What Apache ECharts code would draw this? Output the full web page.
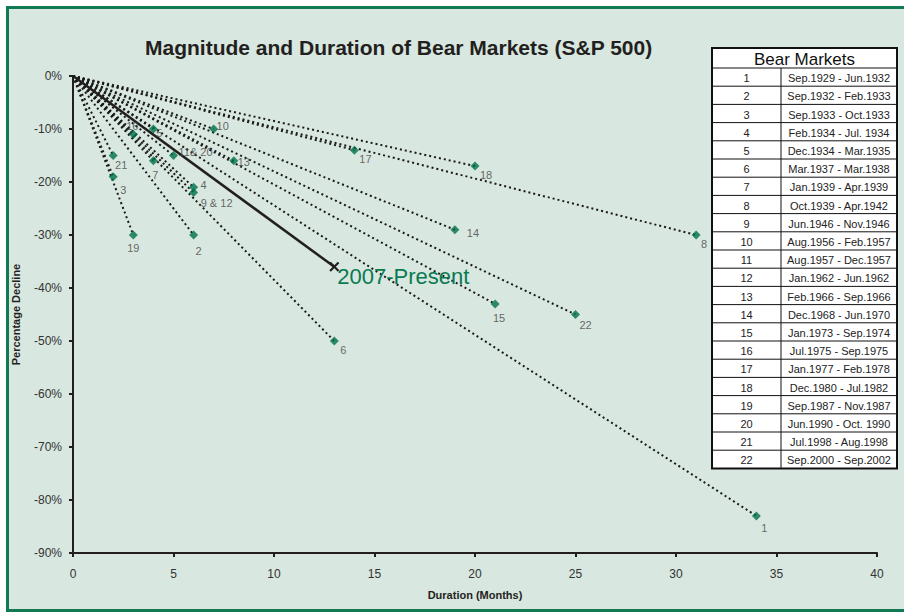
<!DOCTYPE html>
<html>
<head>
<meta charset="utf-8">
<script src="https://cdn.jsdelivr.net/npm/echarts@6/dist/echarts.min.js"></script>
<style>
  html, body { margin: 0; padding: 0; background: #fff; }
  #chart { width: 904px; height: 612px; }
</style>
</head>
<body>
<div id="chart"></div>
<script>
// bear markets: label, duration (months), decline (%)
var marketLabels = ['1', '2', '3', '4', '5', '6', '7', '8', '9 & 12', '10', '11& 20', '13', '14', '15', '16', '17', '18', '19', '21', '22'];
var marketMonths = [34, 6, 2, 6, 4, 13, 4, 31, 6, 7, 5, 8, 19, 21, 3, 14, 20, 3, 2, 25];
var marketDecline = [-83, -30, -19, -21, -10, -50, -16, -30, -22, -10, -15, -16, -29, -43, -11, -14, -17, -30, -15, -45];

// current bear market
var currentName = '2007-Present';
var currentMonths = 13;
var currentDecline = -36;

// table on the right
var tableTitle = 'Bear Markets';
var tableIds = ['1', '2', '3', '4', '5', '6', '7', '8', '9', '10', '11', '12', '13', '14', '15', '16', '17', '18', '19', '20', '21', '22'];
var tablePeriods = [
  'Sep.1929 - Jun.1932', 'Sep.1932 - Feb.1933', 'Sep.1933 - Oct.1933', 'Feb.1934 - Jul. 1934',
  'Dec.1934 - Mar.1935', 'Mar.1937 - Mar.1938', 'Jan.1939 - Apr.1939', 'Oct.1939 - Apr.1942',
  'Jun.1946 - Nov.1946', 'Aug.1956 - Feb.1957', 'Aug.1957 - Dec.1957', 'Jan.1962 - Jun.1962',
  'Feb.1966 - Sep.1966', 'Dec.1968 - Jun.1970', 'Jan.1973 - Sep.1974', 'Jul.1975 - Sep.1975',
  'Jan.1977 - Feb.1978', 'Dec.1980 - Jul.1982', 'Sep.1987 - Nov.1987', 'Jun.1990 - Oct. 1990',
  'Jul.1998 - Aug.1998', 'Sep.2000 - Sep.2002'
];

// where each point label sits, relative to the marker (px)
var labelOffset = {
  '1': [8, 12], '2': [5, 16], '3': [10, 13], '4': [10, -2], '5': [6, 4], '6': [9, 9],
  '7': [2, 14], '8': [8, 9], '9 & 12': [23, 10], '10': [9, -3], '11& 20': [22, -4],
  '13': [10, 1], '14': [18, 3], '15': [4, 14], '16': [-1, -8], '17': [11, 9],
  '18': [11, 9], '19': [0, 13], '21': [8, 9], '22': [10, 10]
};

var chart = echarts.init(document.getElementById('chart'), null, { renderer: 'svg' });

var series = [];
// dotted line from origin to every bear market
marketLabels.forEach(function (name, i) {
  series.push({
    type: 'line',
    silent: true,
    showSymbol: false,
    symbol: 'none',
    z: 2,
    data: [[0, 0], [marketMonths[i], marketDecline[i]]],
    lineStyle: { color: '#1a1a1a', width: 2, type: [2, 3], cap: 'butt' }
  });
});

// markers with labels
series.push({
  type: 'scatter',
  z: 5,
  symbol: 'diamond',
  symbolSize: 9,
  itemStyle: { color: '#00704a' },
  data: marketLabels.map(function (name, i) {
    return {
      name: name,
      value: [marketMonths[i], marketDecline[i]],
      label: {
        show: true,
        position: 'inside',
        offset: labelOffset[name],
        formatter: '{b}',
        color: '#444',
        fontSize: 11,
        fontFamily: 'Liberation Sans, Arial, sans-serif'
      }
    };
  })
});

// 2007 - present
series.push({
  type: 'line',
  z: 4,
  data: [
    { value: [0, 0], symbol: 'none' },
    {
      value: [currentMonths, currentDecline],
      label: {
        show: true,
        position: 'inside',
        align: 'left',
        verticalAlign: 'middle',
        offset: [3, 10],
        formatter: currentName,
        color: '#0a7a52',
        fontSize: 22,
        fontFamily: 'Liberation Sans, Arial, sans-serif'
      }
    }
  ],
  symbol: 'path://M0,1.5L1.5,0L5,3.5L8.5,0L10,1.5L6.5,5L10,8.5L8.5,10L5,6.5L1.5,10L0,8.5L3.5,5Z',
  symbolSize: 10,
  itemStyle: { color: '#231f20' },
  lineStyle: { color: '#231f20', width: 2.5 }
});

// table graphics
var tx = 712, tw = 185, col = 69, ty = 48, headH = 20, rowH = 18.2;
var tableEls = [];
tableEls.push({
  type: 'rect', z: 10,
  shape: { x: tx, y: ty, width: tw, height: headH + rowH * tableIds.length },
  style: { fill: '#fff', stroke: '#111', lineWidth: 2 }
});
tableEls.push({
  type: 'text', z: 11,
  style: { x: tx + tw / 2, y: ty + headH / 2 + 1, text: tableTitle, textAlign: 'center', textVerticalAlign: 'middle',
           font: '17px "Liberation Sans", Arial, sans-serif', fill: '#111' }
});
tableEls.push({
  type: 'line', z: 11,
  shape: { x1: tx + col, y1: ty + headH, x2: tx + col, y2: ty + headH + rowH * tableIds.length },
  style: { stroke: '#111', lineWidth: 1 }
});
tableIds.forEach(function (id, i) {
  var y0 = ty + headH + rowH * i;
  tableEls.push({
    type: 'line', z: 11,
    shape: { x1: tx, y1: y0, x2: tx + tw, y2: y0 },
    style: { stroke: '#111', lineWidth: 1 }
  });
  tableEls.push({
    type: 'text', z: 11,
    style: { x: tx + col / 2, y: y0 + rowH / 2 + 1, text: id, textAlign: 'center', textVerticalAlign: 'middle',
             font: '11px "Liberation Sans", Arial, sans-serif', fill: '#222' }
  });
  tableEls.push({
    type: 'text', z: 11,
    style: { x: tx + col + (tw - col) / 2, y: y0 + rowH / 2 + 1, text: tablePeriods[i], textAlign: 'center', textVerticalAlign: 'middle',
             font: '11px "Liberation Sans", Arial, sans-serif', fill: '#222' }
  });
});

var option = {
  backgroundColor: '#fff',
  animation: false,
  title: {
    text: 'Magnitude and Duration of Bear Markets (S&P 500)',
    left: 140,
    top: 32,
    textStyle: { fontSize: 21, fontWeight: 'bold', color: '#231f20', fontFamily: 'Liberation Sans, Arial, sans-serif' }
  },
  graphic: [
    {
      type: 'rect', z: -10, silent: true,
      shape: { x: 7.5, y: 7.5, width: 1000, height: 603 },
      style: { fill: '#d8e7df', stroke: '#127a52', lineWidth: 3 }
    }
  ].concat(tableEls),
  grid: { left: 73, right: 27, top: 76, bottom: 59 },
  xAxis: {
    type: 'value',
    min: 0, max: 40, interval: 5,
    name: 'Duration (Months)',
    nameLocation: 'middle',
    nameGap: 36,
    nameTextStyle: { fontSize: 11, fontWeight: 'bold', color: '#231f20', fontFamily: 'Liberation Sans, Arial, sans-serif' },
    axisLine: { show: true, onZero: false, lineStyle: { color: '#231f20', width: 2 } },
    axisTick: { show: true, length: 4, lineStyle: { color: '#231f20', width: 2 } },
    axisLabel: { margin: 15, fontSize: 12, color: '#333', fontFamily: 'Liberation Sans, Arial, sans-serif' },
    splitLine: { show: false }
  },
  yAxis: {
    type: 'value',
    min: -90, max: 0, interval: 10,
    name: 'Percentage Decline',
    nameLocation: 'middle',
    nameGap: 52,
    nameTextStyle: { fontSize: 11, fontWeight: 'bold', color: '#231f20', fontFamily: 'Liberation Sans, Arial, sans-serif' },
    axisLine: { show: true, onZero: false, lineStyle: { color: '#231f20', width: 2 } },
    axisTick: { show: true, length: 4, lineStyle: { color: '#231f20', width: 2 } },
    axisLabel: { margin: 11, fontSize: 12, color: '#333', fontFamily: 'Liberation Sans, Arial, sans-serif', formatter: '{value}%' },
    splitLine: { show: false }
  },
  series: series
};

chart.setOption(option);
</script>
</body>
</html>
